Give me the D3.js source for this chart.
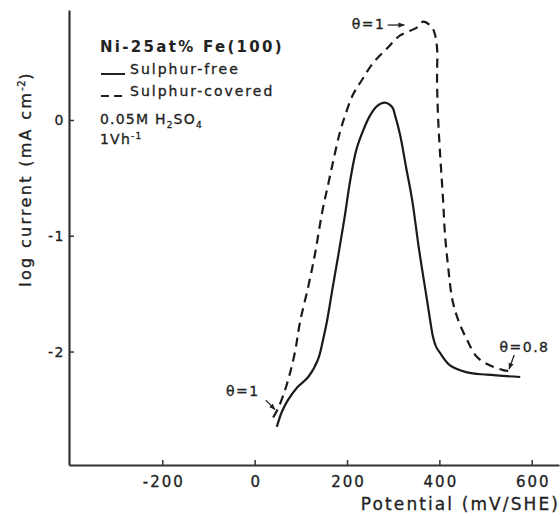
<!DOCTYPE html>
<html>
<head>
<meta charset="utf-8">
<script src="https://cdn.jsdelivr.net/npm/d3@7"></script>
<style>
  html, body { margin: 0; padding: 0; background: #fff; }
  svg { display: block; }
  text { font-family: "DejaVu Sans", sans-serif; fill: #222; stroke: #222; stroke-width: 0.3px; }
  .axis path, .axis line { stroke: #333; }
  .axis text { fill: #222; }
</style>
</head>
<body>
<div id="chart"></div>
<script>
// ── Data ─────────────────────────────────────────────────────────────────
// potential in mV/SHE, log current in log(mA cm^-2)
const freeMv  = [48, 59, 72, 92, 116, 137, 148, 157, 168, 181, 194, 207, 220, 235, 250, 265, 282, 298, 304, 315, 328, 341, 356, 373, 380, 386, 393, 401, 423, 460, 503, 575];
const freeLog = [-2.65, -2.52, -2.42, -2.31, -2.22, -2.07, -1.90, -1.73, -1.47, -1.17, -0.86, -0.52, -0.26, -0.09, 0.04, 0.12, 0.15, 0.11, 0.04, -0.13, -0.41, -0.69, -1.12, -1.55, -1.73, -1.87, -1.96, -2.01, -2.12, -2.18, -2.20, -2.22];

const covMv  = [40, 51, 66, 77, 88, 98, 116, 131, 146, 159, 172, 185, 196, 213, 233, 256, 287, 315, 352, 365, 384, 391, 395, 395, 397, 401, 408, 412, 419, 428, 441, 460, 482, 510, 538, 560];
const covLog = [-2.57, -2.49, -2.33, -2.18, -1.99, -1.75, -1.44, -1.15, -0.80, -0.56, -0.32, -0.10, 0.04, 0.22, 0.35, 0.49, 0.62, 0.73, 0.80, 0.85, 0.80, 0.73, 0.62, 0.33, 0.04, -0.26, -0.69, -0.98, -1.27, -1.55, -1.73, -1.90, -2.05, -2.12, -2.16, -2.17];

const xTicks = [-200, 0, 200, 400, 600];
const xTickLabels = ['-200', '0', '200', '400', '600'];
const yTicks = [-2, -1, 0];
const yTickLabels = ['-2', '-1', '0'];

// ── Layout ───────────────────────────────────────────────────────────────
const W = 560, H = 516;
const svg = d3.select('#chart').append('svg')
  .attr('width', W)
  .attr('height', H);

const x = d3.scaleLinear().domain([-402, 659]).range([69, 559]);
const y = d3.scaleLinear().domain([-2.98, 0.95]).range([465, 10]);

svg.append('defs').append('marker')
  .attr('id', 'arr')
  .attr('viewBox', '0 0 10 10')
  .attr('refX', 9).attr('refY', 5)
  .attr('markerWidth', 5).attr('markerHeight', 5)
  .attr('orient', 'auto')
  .append('path')
  .attr('d', 'M0,1 L10,5 L0,9 Z')
  .attr('fill', '#222');

// Axes
svg.append('g')
  .attr('class', 'axis')
  .attr('transform', `translate(0,${y(-2.98)})`)
  .call(d3.axisBottom(x)
    .tickValues(xTicks)
    .tickFormat((d, i) => xTickLabels[i])
    .tickSizeInner(-5).tickSizeOuter(0).tickPadding(11))
  .call(g => g.select('.domain').attr('stroke-width', 2.2))
  .call(g => g.selectAll('.tick line').attr('stroke-width', 1.5))
  .call(g => g.selectAll('.tick text')
    .style('font-size', '15px').style('letter-spacing', '2px').attr('dx', '1px'));

svg.append('g')
  .attr('class', 'axis')
  .attr('transform', `translate(${x(-402)},0)`)
  .call(d3.axisLeft(y)
    .tickValues(yTicks)
    .tickFormat((d, i) => yTickLabels[i])
    .tickSizeInner(-5).tickSizeOuter(0).tickPadding(4))
  .call(g => g.select('.domain').attr('stroke-width', 2.2))
  .call(g => g.selectAll('.tick line').attr('stroke-width', 1.5))
  .call(g => g.selectAll('.tick text')
    .style('font-size', '14px').style('letter-spacing', '1.5px'));

// Axis titles
svg.append('text')
  .attr('x', 560).attr('y', 510)
  .attr('text-anchor', 'end')
  .style('font-size', '17px')
  .style('letter-spacing', '2.1px')
  .text('Potential (mV/SHE)');

const yl = svg.append('text')
  .attr('transform', 'translate(31,179) rotate(-90)')
  .attr('text-anchor', 'middle')
  .style('font-size', '16px')
  .style('letter-spacing', '2.3px');
yl.append('tspan').text('log current (mA cm');
yl.append('tspan').attr('dy', -6).style('font-size', '10px').style('letter-spacing', '0.5px').text('-2');
yl.append('tspan').attr('dy', 6).text(')');

// Curves
const line = d3.line()
  .x(d => x(d[0]))
  .y(d => y(d[1]))
  .curve(d3.curveCatmullRom.alpha(0.5));

svg.append('path')
  .datum(d3.zip(freeMv, freeLog))
  .attr('fill', 'none')
  .attr('stroke', '#1a1a1a')
  .attr('stroke-width', 2.2)
  .attr('d', line);

svg.append('path')
  .datum(d3.zip(covMv, covLog))
  .attr('fill', 'none')
  .attr('stroke', '#1a1a1a')
  .attr('stroke-width', 2.2)
  .attr('stroke-dasharray', '9,6')
  .attr('d', line);

// Legend block
const lg = svg.append('g');
lg.append('text').attr('x', 100).attr('y', 52)
  .style('font-size', '15px').style('font-weight', 'bold').style('letter-spacing', '2.3px')
  .style('stroke-width', 0)
  .text('Ni-25at% Fe(100)');

lg.append('line').attr('x1', 101).attr('x2', 125).attr('y1', 74).attr('y2', 74)
  .attr('stroke', '#222').attr('stroke-width', 2);
lg.append('text').attr('x', 130).attr('y', 74)
  .style('font-size', '14px').style('letter-spacing', '2px')
  .text('Sulphur-free');

lg.append('line').attr('x1', 101).attr('x2', 125).attr('y1', 96).attr('y2', 96)
  .attr('stroke', '#222').attr('stroke-width', 2).attr('stroke-dasharray', '8,5');
lg.append('text').attr('x', 130).attr('y', 96)
  .style('font-size', '14px').style('letter-spacing', '2px')
  .text('Sulphur-covered');

const acid = lg.append('text').attr('x', 100).attr('y', 124)
  .style('font-size', '14px').style('letter-spacing', '1.2px');
acid.append('tspan').text('0.05M H');
acid.append('tspan').attr('dy', 4).style('font-size', '9px').text('2');
acid.append('tspan').attr('dy', -4).text('SO');
acid.append('tspan').attr('dy', 4).style('font-size', '9px').text('4');

const rate = lg.append('text').attr('x', 100).attr('y', 144)
  .style('font-size', '14px').style('letter-spacing', '1.2px');
rate.append('tspan').text('1Vh');
rate.append('tspan').attr('dy', -5).style('font-size', '9px').text('-1');

// Annotations
function note(label, tx, ty, ax1, ay1, ax2, ay2) {
  svg.append('text')
    .attr('x', x(tx)).attr('y', y(ty))
    .attr('dy', '0.35em')
    .style('font-size', '14px')
    .style('letter-spacing', '1.5px')
    .text(label);
  svg.append('line')
    .attr('x1', x(ax1)).attr('y1', y(ay1))
    .attr('x2', x(ax2)).attr('y2', y(ay2))
    .attr('stroke', '#222').attr('stroke-width', 1.3)
    .attr('marker-end', 'url(#arr)');
}
note('θ=1', 210, 0.83, 288, 0.82, 324, 0.82);
note('θ=1', -62, -2.34, 24, -2.42, 44, -2.50);
note('θ=0.8', 530, -1.96, 562, -2.03, 551, -2.15);
</script>
</body>
</html>
